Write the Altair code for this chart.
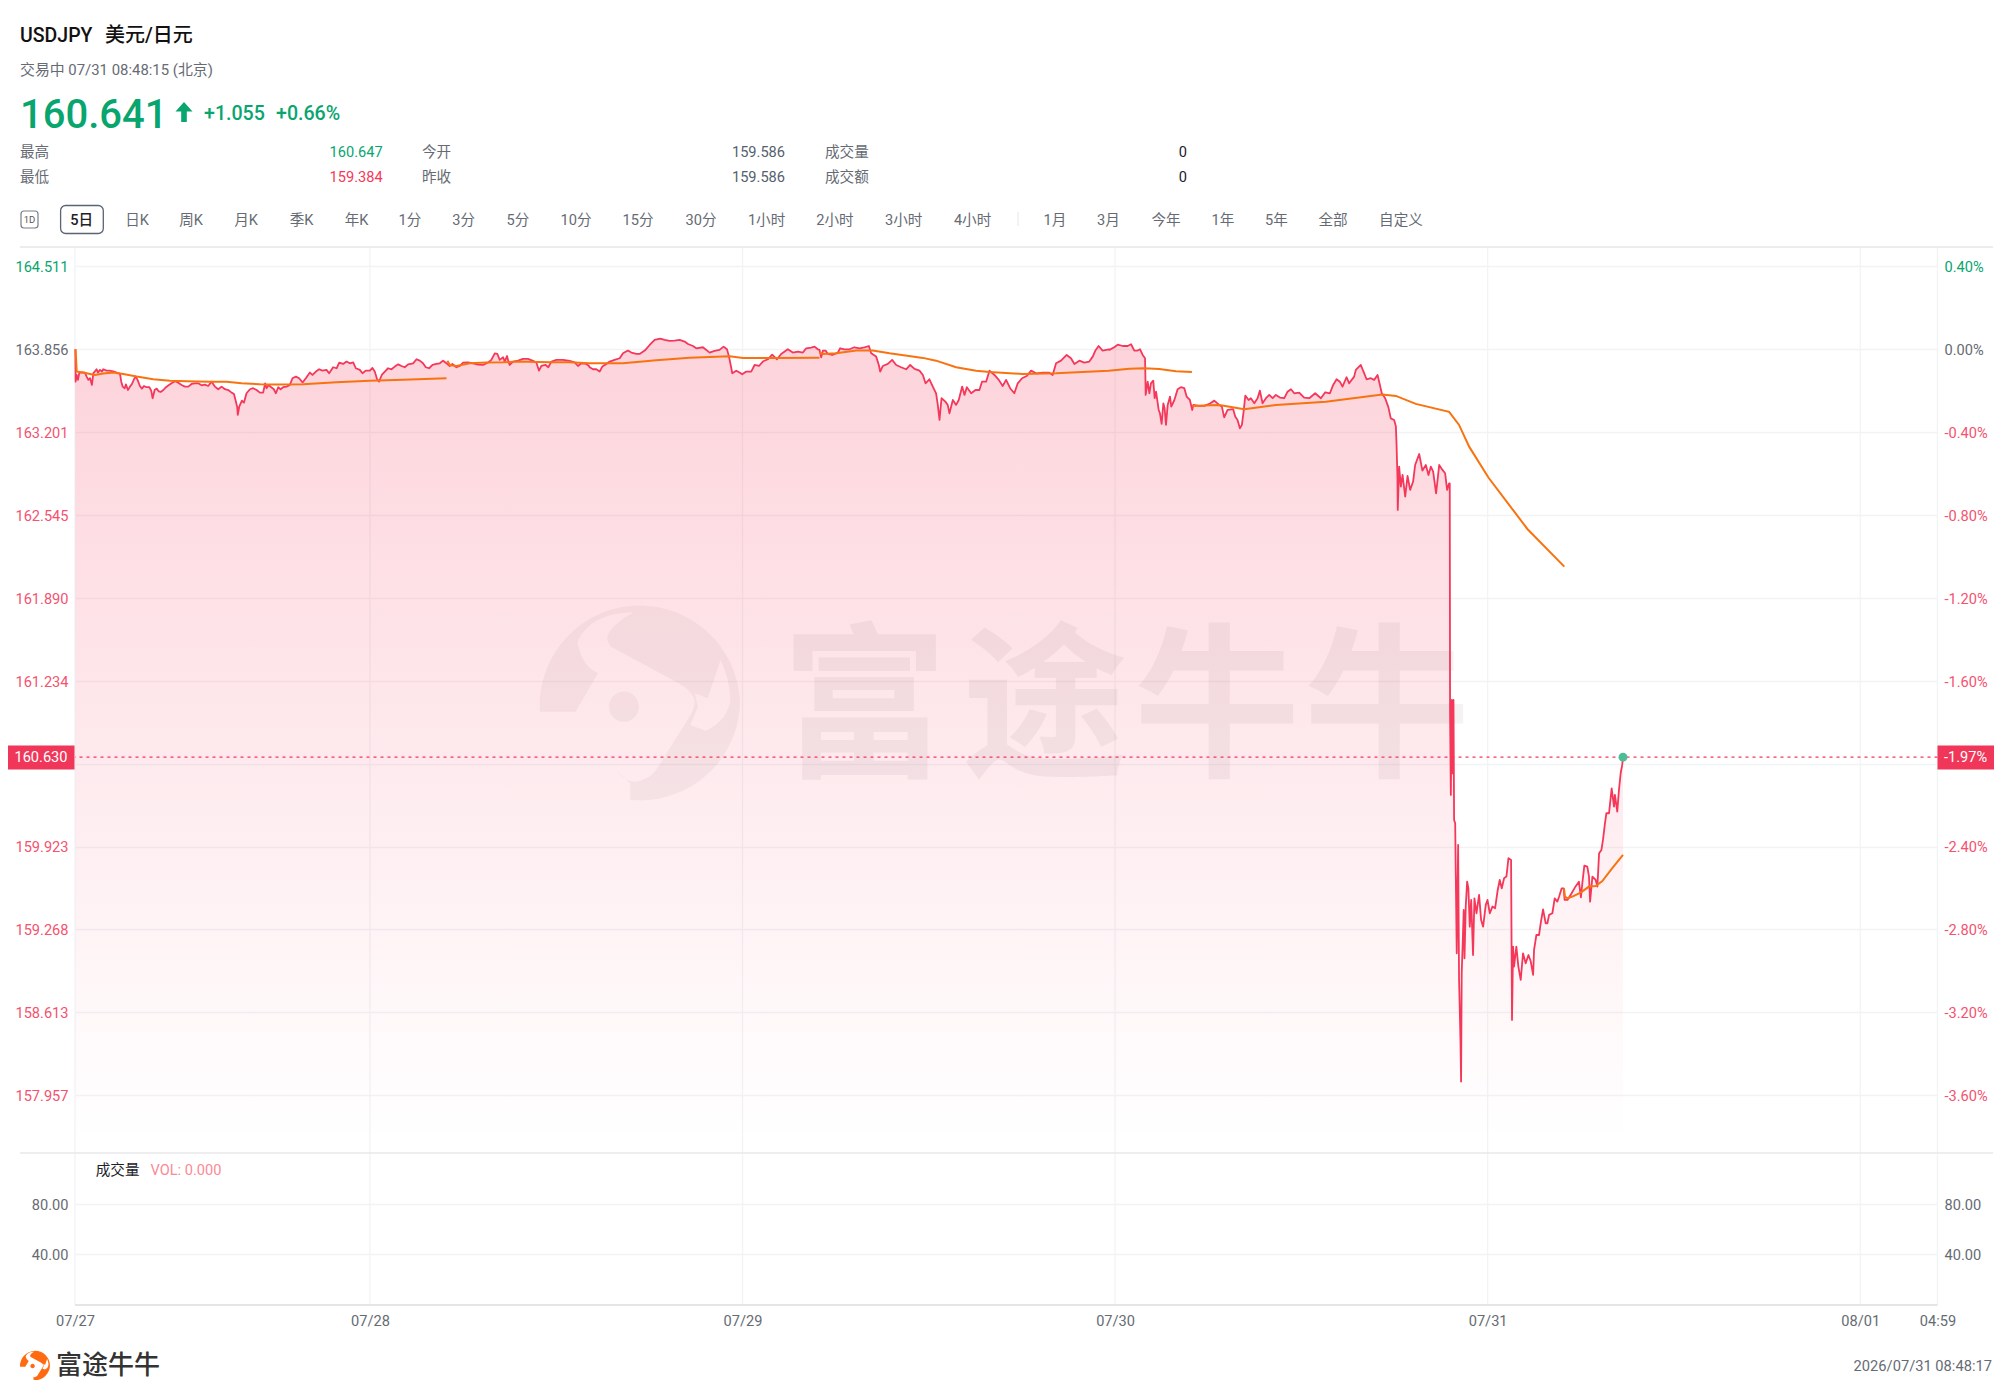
import altair as alt
import pandas as pd

# ---------- price series: hours since the 07/27 05:00 open, and price ----------
hours_a = [0.02,.04,.11,.19,.28,.41,.64,.75,.86,.97,1.09,1.18,1.39,1.48,1.61,1.74,1.82,2.04,2.21,2.47,2.68,2.90,2.98,3.07,3.20,3.28,3.41,3.54,3.67,3.80,3.91,4.03,4.18,4.31,4.44,4.61,4.79,4.91,5.00,5.13,5.26,5.39,5.52,5.69,5.86,6.03,6.22,6.44,6.65,6.87,7.08,7.30,7.51,7.73,7.94,8.15,8.37,8.58,8.80,9.01,9.23,9.44,9.66,9.87,10.09,10.24,10.34,10.45,10.49,10.58,10.75,10.88,11.05,11.27,11.48,11.70,11.91,12.12,12.25,12.34,12.47,12.64,12.81,12.94,13.09,13.24,13.41,13.63,13.84,14.01,14.23,14.44,14.66,14.87,15.13,15.30,15.52,15.73,15.94,16.20,16.37,16.63,16.85,17.02,17.27,17.49,17.70,17.92,18.09,18.35,18.52,18.73,18.99,19.16,19.31,19.46,19.59,19.76,19.96,20.17,20.39,20.60,20.82,21.03,21.24,21.46,21.78,22.00,22.21,22.42,22.60,22.81,23.03,23.28,23.50,23.71,23.93,24.14,24.31,24.57,24.79,25.00,25.32,25.64,25.97,26.29,26.61,26.82,27.04,27.21,27.36,27.58,27.68,27.83,27.92,28.00,28.22,28.54,28.86,29.18,29.51,29.72,29.89,30.04,30.32,30.49,30.69,31.01,31.44,31.87,32.19,32.40,32.62,32.94,33.11]
price_a = [163.856,163.600,163.653,163.614,163.672,163.672,163.672,163.640,163.614,163.627,163.574,163.666,163.698,163.672,163.693,163.680,163.698,163.687,163.687,163.682,163.672,163.661,163.600,163.561,163.548,163.579,163.534,163.561,163.582,163.619,163.640,163.614,163.566,163.545,163.566,163.556,163.556,163.529,163.469,163.534,163.545,163.524,163.519,163.534,163.556,163.571,163.587,163.603,163.592,163.574,163.561,163.561,163.582,163.587,163.587,163.571,163.577,163.566,163.600,163.561,163.540,163.561,163.540,163.534,163.513,163.503,163.455,163.397,163.337,163.403,163.450,163.434,163.508,163.540,163.548,163.534,163.513,163.513,163.587,163.548,163.574,163.556,163.540,163.508,163.556,163.540,163.556,163.561,163.574,163.627,163.640,163.627,163.593,163.627,163.672,163.653,163.680,163.698,163.687,163.693,163.666,163.714,163.706,163.751,163.740,163.759,163.745,163.753,163.706,163.693,163.666,163.687,163.687,163.708,163.680,163.619,163.600,163.653,163.680,163.706,163.698,163.719,163.737,163.724,163.714,163.737,163.745,163.777,163.766,163.745,163.714,163.706,163.732,163.740,163.745,163.766,163.745,163.724,163.740,163.714,163.724,163.751,163.753,163.745,163.735,163.732,163.751,163.772,163.824,163.819,163.772,163.793,163.759,163.803,163.759,163.732,163.759,163.766,163.780,163.780,163.764,163.751,163.687,163.724,163.732,163.714,163.759,163.772,163.772,163.764,163.753,163.724,163.745,163.740,163.724]

hours_b = [33.15,33.37,33.58,33.80,33.97,34.23,34.44,34.76,35.09,35.30,35.62,35.84,36.16,36.37,36.70,37.02,37.34,37.70,37.98,38.30,38.63,38.95,39.27,39.49,39.81,40.02,40.45,40.67,40.88,41.20,41.52,41.78,42.00,42.13,42.28,42.34,42.60,42.81,42.98,43.24,43.56,43.78,44.06,44.31,44.63,44.91,45.22,45.49,45.92,46.24,46.57,46.89,47.10,47.42,47.64,47.85,47.96,48.07,48.18,48.35,48.50,48.78,49.14,49.29,49.57,49.89,50.21,50.54,50.86,51.14,51.29,51.61,51.78,51.87,52.04,52.36,52.64,52.90,53.22,53.54,53.80,54.08,54.40,54.62,54.79,55.04,55.26,55.47,55.58,55.69,55.82,56.07,56.22,56.33,56.55,56.76,56.93,57.15,57.30,57.45,57.73,58.01,58.26,58.43,58.69,58.91,59.23,59.51,59.76,59.98,60.24,60.51,60.73,61.01,61.31,61.59,61.91,62.34,62.73,62.98,63.20,63.52,63.88,64.16,64.38,64.70,65.02,65.34,65.56,65.73,65.94,66.20,66.59]
price_b = [163.714,163.698,163.698,163.680,163.719,163.740,163.759,163.772,163.785,163.824,163.846,163.830,163.819,163.819,163.846,163.890,163.930,163.940,163.930,163.922,163.925,163.930,163.917,163.898,163.882,163.864,163.872,163.851,163.830,163.843,163.851,163.877,163.856,163.798,163.706,163.666,163.687,163.672,163.658,163.680,163.680,163.732,163.724,163.759,163.777,163.814,163.777,163.819,163.856,163.830,163.838,163.830,163.864,163.869,163.877,163.856,163.851,163.793,163.846,163.846,163.819,163.811,163.830,163.864,163.856,163.856,163.872,163.864,163.872,163.882,163.824,163.798,163.732,163.680,163.724,163.740,163.772,163.732,163.714,163.698,163.732,163.701,163.687,163.653,163.587,163.619,163.561,163.508,163.416,163.297,163.469,163.442,163.416,163.350,163.455,163.416,163.455,163.561,163.495,163.556,163.508,163.534,163.534,163.600,163.600,163.687,163.653,163.614,163.566,163.614,163.548,163.508,163.587,163.627,163.645,163.687,163.666,163.672,163.672,163.653,163.745,163.766,163.811,163.785,163.740,163.766,163.751,163.759,163.798,163.846,163.882,163.846,163.856]

hours_c = [66.63,66.95,67.17,67.49,67.81,68.03,68.24,68.45,68.61,68.78,68.93,68.95,68.97,69.10,69.21,69.31,69.46,69.55,69.64,69.81,69.89,70.00,70.11,70.19,70.28,70.39,70.54,70.62,70.82,71.03,71.24,71.46,71.61,71.82,71.97,72.04,72.42,72.75,73.07,73.39,73.71,73.88,74.03,74.25,74.61,74.74,74.89,75.04,75.17,75.28,75.39,75.60,75.75,75.97,76.18,76.33,76.50,76.72,76.93,77.15,77.36,77.62,77.90,78.11,78.33,78.54,78.86,79.18,79.51,79.89,80.26,80.54,80.84,81.05,81.27,81.48,81.65,81.91,82.08,82.40,82.51,82.83,83.05,83.20,83.48,83.69,83.91,84.06,84.18,84.40,84.61,84.76,84.98,85.09,85.13,85.19,85.21,85.30,85.41,85.52,85.69,85.84,86.01,86.20,86.33,86.59,86.80,87.02,87.19,87.34,87.49,87.68,87.88,88.09,88.26,88.39,88.52]
price_c = [163.851,163.872,163.893,163.882,163.882,163.896,163.846,163.846,163.856,163.811,163.785,163.666,163.495,163.600,163.508,163.587,163.608,163.469,163.521,163.376,163.350,163.266,163.429,163.390,163.258,163.416,163.482,163.403,163.455,163.540,163.556,163.548,163.482,163.455,163.376,163.416,163.408,163.408,163.424,163.450,163.416,163.403,163.318,163.376,163.382,163.324,163.297,163.231,163.258,163.363,163.490,163.455,163.469,163.429,163.469,163.529,163.429,163.469,163.495,163.469,163.495,163.474,163.469,163.521,163.540,163.508,163.513,163.474,163.469,163.508,163.469,163.516,163.508,163.574,163.619,163.600,163.561,163.635,163.587,163.640,163.693,163.732,163.666,163.619,163.627,163.614,163.653,163.574,163.508,163.469,163.397,163.310,163.297,163.245,163.113,162.849,162.586,162.928,162.770,162.862,162.691,162.854,162.744,162.810,162.941,163.028,162.897,162.941,162.862,162.928,162.889,162.717,162.941,162.902,162.876,162.744,162.796]

hours_d = [88.56,88.58,88.63,88.69,88.73,88.80,88.84,88.91,88.95,89.01,89.10,89.16,89.21,89.25,89.29,89.33,89.40,89.46,89.51,89.59,89.68,89.76,89.85,89.94,90.06,90.15,90.28,90.45,90.58,90.71,90.88,90.99,91.14,91.31,91.48,91.65,91.78,91.91,92.06,92.21,92.34,92.51,92.53,92.57,92.64,92.70,92.85,92.98,93.13,93.28,93.45,93.63,93.78,93.93,93.99,94.14,94.31,94.42,94.57,94.74,94.85,94.96,95.17,95.32,95.49,95.60,95.77,95.90,95.96,96.14,96.41,96.63,96.88,97.01,97.10,97.23,97.42,97.53,97.60,97.75,97.96,98.07,98.18,98.33,98.43,98.56,98.65,98.82,98.99,99.14,99.20,99.35,99.46,99.57,99.67,99.72]
price_d = [162.796,160.977,160.332,161.083,160.503,161.083,160.134,160.108,159.686,159.079,159.936,158.869,158.605,158.394,158.065,158.921,159.185,159.422,159.040,159.449,159.646,159.593,159.290,159.501,159.066,159.514,159.396,159.541,159.343,159.290,159.462,159.501,159.396,159.449,159.435,159.580,159.659,159.593,159.673,159.686,159.831,159.818,159.396,158.552,159.132,158.974,159.132,158.974,158.869,159.079,159.000,159.066,159.014,158.908,159.106,159.224,159.224,159.317,159.427,159.317,159.317,159.383,159.396,159.514,159.488,159.527,159.593,159.593,159.501,159.501,159.554,159.601,159.646,159.522,159.633,159.773,159.765,159.686,159.488,159.686,159.659,159.607,159.870,159.897,159.976,160.108,160.187,160.187,160.384,160.239,160.332,160.200,160.371,160.503,160.569,160.630]

# ---------- orange average line, one list per day ----------
ma1_hours = [.04,.11,.54,.97,1.29,1.82,2.47,3.11,3.97,5.04,6.12,7.19,8.69,9.76,10.73,11.91,12.98,14.70,16.85,18.99,21.14,23.93]
ma1_price = [163.856,163.680,163.672,163.661,163.653,163.664,163.672,163.661,163.640,163.619,163.608,163.603,163.600,163.600,163.587,163.579,163.577,163.579,163.595,163.608,163.616,163.627]
ma2_hours = [23.99,24.14,24.57,25.43,26.50,27.58,28.65,29.72,30.79,31.87,33.11,35.30,37.45,39.59,42.17,43.03,45.00,47.96]
ma2_price = [163.766,163.732,163.724,163.745,163.751,163.753,163.759,163.756,163.753,163.753,163.745,163.745,163.769,163.790,163.801,163.788,163.788,163.790]
ma3_hours = [47.96,48.18,49.03,50.33,51.39,52.47,54.62,55.47,56.76,58.05,58.91,61.05,63.20,66.59,67.92,68.88,69.85,70.92,71.95]
ma3_price = [163.830,163.819,163.824,163.846,163.846,163.824,163.788,163.766,163.714,163.687,163.677,163.661,163.666,163.687,163.703,163.706,163.701,163.682,163.677]
ma4_hours = [71.97,73.07,73.71,74.57,75.32,77.36,80.58,84.22,85.09,86.37,88.52,89.16,89.81,91.05,93.56,95.94]
ma4_price = [163.408,163.413,163.416,163.397,163.382,163.416,163.442,163.498,163.487,163.424,163.361,163.258,163.086,162.842,162.435,162.137]
ma5_hours = [95.92,95.98,96.14,96.46,96.99,97.53,97.96,98.39,99.03,99.72]
ma5_price = [159.593,159.528,159.514,159.528,159.559,159.607,159.612,159.651,159.752,159.857]

# ---------- ticks and text ----------
price_ticks = [164.511,163.856,163.201,162.545,161.890,161.234,160.579,159.923,159.268,158.613,157.957]
price_labels = ["164.511","163.856","163.201","162.545","161.890","161.234","","159.923","159.268","158.613","157.957"]
pct_labels = ["0.40%","0.00%","-0.40%","-0.80%","-1.20%","-1.60%","","-2.40%","-2.80%","-3.20%","-3.60%"]
time_ticks = [0,19,43,67,91,115,119.98]
time_labels = ["07/27","07/28","07/29","07/30","07/31","08/01","04:59"]
volume_ticks = [80,40]
volume_hours = [0,60,119.98]
volume_values = [0,0,0]
last_price = 160.630
last_hour = 99.72
baseline_price = 157.604

toolbar_left = ["5日","日K","周K","月K","季K","年K","1分","3分","5分","10分","15分","30分","1小时","2小时","3小时","4小时"]
toolbar_right = ["1月","3月","今年","1年","5年","全部","自定义"]

# ---------- layout in screenshot pixels ----------
OX, OY = 75, 248
W, H = 1862.5, 1057
MAIN_H = 905
FONT = "Roboto, 'Noto Sans CJK SC', sans-serif"
RED, GREEN, ORANGE = "#f5375a", "#08a56f", "#f8730f"
GREY, DARK = "#666b73", "#1d2129"
GRID = "#f2f3f5"

price_scale = alt.Scale(domain=[157.5, 164.657], range=[MAIN_H, 0], nice=False, zero=False)
vol_scale = alt.Scale(domain=[0, 120.8], range=[1056, MAIN_H], nice=False, zero=False)
x_scale = alt.Scale(domain=[0, 119.98], nice=False, zero=False)

hours = hours_a + hours_b + hours_c + hours_d
prices = price_a + price_b + price_c + price_d
price_df = pd.DataFrame({"hour": hours, "price": prices})
ma_df = pd.concat([
    pd.DataFrame({"hour": h, "price": p, "day": i})
    for i, (h, p) in enumerate([(ma1_hours, ma1_price), (ma2_hours, ma2_price), (ma3_hours, ma3_price),
                                (ma4_hours, ma4_price), (ma5_hours, ma5_price)])
])
vol_df = pd.DataFrame({"hour": volume_hours, "vol": volume_values})
one = alt.Data(values=[{"a": 1}])


def lookup(labels, ticks):
    return "%s[indexof(%s, datum.value)]" % (str(labels), str(ticks))


label_color = {
    "condition": [
        {"test": "datum.value > 164", "value": GREEN},
        {"test": "datum.value > 163.5", "value": "#666b73"},
    ],
    "value": "#f4526f",
}
y_common = dict(domain=False, ticks=False, title=None, labelFont=FONT, labelFontSize=14.6,
                labelOverlap=False, labelBound=False, labelFlush=False, labelOffset=1.2)

x_axis = alt.Axis(values=time_ticks, labelExpr=lookup(time_labels, time_ticks), grid=False,
                  domain=False, ticks=False, title=None, labelFont=FONT, labelFontSize=14.6,
                  labelColor=GREY, labelPadding=8, labelOverlap=False, labelFlush=False, labelBound=False)
x_enc = alt.X("hour:Q", scale=x_scale, axis=x_axis)

gradient = alt.LinearGradient(gradient="linear", x1=0, x2=0, y1=0, y2=1, stops=[
    alt.GradientStop(color="rgba(245,55,90,0.22)", offset=0),
    alt.GradientStop(color="rgba(245,55,90,0)", offset=1),
])

area = alt.Chart(price_df).mark_area(fill=gradient).encode(
    x=x_enc,
    y=alt.Y("price:Q", scale=price_scale,
            axis=alt.Axis(orient="left", values=price_ticks, labelExpr=lookup(price_labels, price_ticks),
                          grid=True, gridColor=GRID, gridWidth=1.3,
                          labelPadding=7, labelColor=label_color, **y_common)),
    y2=alt.datum(baseline_price),
)
# vertical day lines run through both panels, so they are rules over the whole plot height
day_rules = alt.Chart(pd.DataFrame({"hour": time_ticks})).mark_rule(color=GRID, strokeWidth=1.3).encode(x=x_enc)
pct_axis_carrier = alt.Chart(price_df).mark_line(opacity=0).encode(
    x=x_enc,
    y=alt.Y("price:Q", scale=price_scale,
            axis=alt.Axis(orient="right", values=price_ticks, labelExpr=lookup(pct_labels, price_ticks), grid=False,
                          labelPadding=6.5, labelColor=label_color, **y_common)),
)
line = alt.Chart(price_df).mark_line(color=RED, strokeWidth=1.8, strokeJoin="round").encode(
    x=x_enc,
    y=alt.Y("price:Q", scale=price_scale, axis=None),
)
ma = alt.Chart(ma_df).mark_line(color=ORANGE, strokeWidth=2).encode(
    x=x_enc,
    y=alt.Y("price:Q", scale=price_scale, axis=None),
    detail="day:N",
)
vol_left = alt.Chart(vol_df).mark_line(opacity=0).encode(
    x=x_enc,
    y=alt.Y("vol:Q", scale=vol_scale,
            axis=alt.Axis(orient="left", values=volume_ticks, format=".2f", grid=True, gridColor=GRID, gridWidth=1.3,
                          labelPadding=7, labelColor=GREY, **y_common)),
)
vol_right = alt.Chart(vol_df).mark_line(opacity=0).encode(
    x=x_enc,
    y=alt.Y("vol:Q", scale=vol_scale,
            axis=alt.Axis(orient="right", values=volume_ticks, format=".2f", grid=False,
                          labelPadding=6.5, labelColor=GREY, **y_common)),
)
last_rule = alt.Chart(pd.DataFrame({"price": [last_price]})).mark_rule(color=RED, strokeWidth=1.3, strokeDash=[3, 4]).encode(
    y=alt.Y("price:Q", scale=price_scale, axis=None),
)
last_dot = alt.Chart(pd.DataFrame({"hour": [last_hour], "price": [last_price]})).mark_point(
    filled=True, size=80, color="#4ebd96", opacity=1).encode(
    x=x_enc,
    y=alt.Y("price:Q", scale=price_scale, axis=None),
)


def text(s, x, y, size=14.6, color=GREY, align="left", weight=400, opacity=1):
    return alt.Chart(alt.Data(values=[{"t": s}])).mark_text(
        align=align, baseline="middle", font=FONT, fontSize=size, color=color, fontWeight=weight, opacity=opacity,
    ).encode(x=alt.value(x - OX), y=alt.value(y - OY), text=alt.Text("t:N"))


def hline(x1, x2, y, color, width):
    return alt.Chart(one).mark_rule(color=color, strokeWidth=width).encode(
        x=alt.value(x1 - OX), x2=alt.value(x2 - OX), y=alt.value(y - OY))


def box(x1, x2, y1, y2, fill, stroke=None, radius=0, width=1):
    kw = dict(stroke=stroke, strokeWidth=width) if stroke else {}
    return alt.Chart(one).mark_rect(fill=fill, cornerRadius=radius, **kw).encode(
        x=alt.value(x1 - OX), x2=alt.value(x2 - OX), y=alt.value(y1 - OY), y2=alt.value(y2 - OY))


def symbol(path, x, y, size, color, opacity=1):
    return alt.Chart(one).mark_point(shape=path, filled=True, size=size, color=color, opacity=opacity, strokeWidth=0).encode(
        x=alt.value(x - OX), y=alt.value(y - OY))


ARROW = "M0,-1 L0.85,-0.05 L0.28,-0.05 L0.28,1 L-0.28,1 L-0.28,-0.05 L-0.85,-0.05 Z"
LOGO = ("M-1,0.117 A1,1 0 0,1 1,0 A1,1 0 0,1 -0.097,1 L-0.097,0.833 L-0.239,0.707 Q-0.12,0.85 0,0.807 "
        "Q0.1,0.78 0.161,0.7 L0.516,0.133 Q0.56,0.03 0.54,-0.02 Q0.5,-0.1 0.387,-0.167 L-0.29,-0.533 "
        "Q-0.34,-0.6 -0.323,-0.65 Q-0.25,-0.78 -0.065,-0.877 Q-0.35,-0.87 -0.5,-0.75 Q-0.66,-0.6 -0.613,-0.533 "
        "Q-0.58,-0.35 -0.42,-0.267 L-0.645,0.117 Z "
        "M0.806,-0.4 L0.677,-0.017 L0.548,-0.067 L0.58,0.067 L0.503,0.25 L0.658,0.307 Q0.88,0.2 0.903,0 Q0.9,-0.2 0.806,-0.4 Z "
        "M-0.31,0.067 A0.148,0.15 0 1,1 -0.012,0.067 A0.148,0.15 0 1,1 -0.31,0.067 Z")

toolbar_left_x = [81.6, 137, 191, 246, 301.6, 356.5, 410, 463.6, 518, 576, 638, 701, 766.6, 835, 903.7, 972.6]
toolbar_right_x = [1055, 1108.5, 1166, 1223, 1276.5, 1333, 1401]

layers = [day_rules, area, pct_axis_carrier, vol_left, vol_right]

# watermark
WM = "#7d5d66"
layers.append(symbol(LOGO, 640, 700, 40000, WM, 0.07))
for ch, cx in zip("富途牛牛", [864.5, 1044.6, 1217, 1387]):
    layers.append(text(ch, cx, 714, 166, WM, "center", 700, 0.075))

layers += [line, ma, last_rule, last_dot]

# rules around the panels
layers += [hline(20, 1993, 247, "#ebecee", 2), hline(20, 1993, 1153, "#e8e9eb", 1.6), hline(75, 1937.5, 1305, "#e4e5e7", 2)]

# header
layers += [
    text("USDJPY", 20, 35.5, 19.5, "#111111", weight=500),
    text("美元/日元", 105, 35.5, 20, "#111111", weight=500),
    text("交易中 07/31 08:48:15 (北京)", 20, 70.5, 14.9),
    text("160.641", 20, 115.5, 40, GREEN, weight=500),
    symbol(ARROW, 184, 112, 400, GREEN),
    text("+1.055", 204, 113.5, 19.6, GREEN, weight=500),
    text("+0.66%", 276, 113.5, 19.6, GREEN, weight=500),
    text("最高", 20, 153), text("160.647", 382.6, 153, color=GREEN, align="right"),
    text("今开", 422, 153), text("159.586", 785, 153, color="#555f6e", align="right"),
    text("成交量", 825, 153), text("0", 1187, 153, color=DARK, align="right"),
    text("最低", 20, 178), text("159.384", 382.6, 178, color=RED, align="right"),
    text("昨收", 422, 178), text("159.586", 785, 178, color="#555f6e", align="right"),
    text("成交额", 825, 178), text("0", 1187, 178, color=DARK, align="right"),
    box(21, 38, 211, 228, "white", "#7a7f87", 3, 1.2),
    text("1D", 29.5, 219.5, 9.5, "#555555", "center"),
    box(60.6, 103.3, 205.5, 233.5, "white", "#5a6472", 5, 1.3),
]
layers.append(alt.Chart(one).mark_rule(color="#e5e6e8", strokeWidth=1).encode(
    x=alt.value(1018 - OX), y=alt.value(212 - OY), y2=alt.value(226 - OY)))
for i, (lab, cx) in enumerate(zip(toolbar_left, toolbar_left_x)):
    layers.append(text(lab, cx, 221, 14.6, DARK if i == 0 else GREY, "center", 500 if i == 0 else 400))
for lab, cx in zip(toolbar_right, toolbar_right_x):
    layers.append(text(lab, cx, 221, 14.6, GREY, "center"))

# price tags
layers += [
    box(8, 74.5, 745.5, 769.5, "#f0375a"),
    text("160.630", 41, 758, 14.6, "white", "center"),
    box(1937.5, 1994, 745.5, 769.5, "#f0375a"),
    text("-1.97%", 1965.5, 758, 14.6, "white", "center"),
]

# volume legend and footer
layers += [
    text("成交量", 95.7, 1171, 14.6, DARK),
    text("VOL: 0.000", 150.5, 1171, 14.6, "#f98a96"),
    symbol(LOGO, 35, 1365, 900, "#ff6a10"),
    text("富途牛牛", 56, 1366, 26, "#333333", weight=500),
    text("2026/07/31 08:48:17", 1992, 1367, 14.7, GREY, "right"),
]

chart = alt.layer(*layers).resolve_scale(y="independent").properties(
    width=W, height=H, background="white",
    padding={"left": OX - 8, "top": OY - 8, "right": 1997 - (OX - 8) - W, "bottom": 1383 - (OY - 8) - H},
    autosize=alt.AutoSizeParams(type="none"),
).configure_view(stroke=None)

chart.save("out.html", embed_options={"renderer": "svg", "actions": False})
